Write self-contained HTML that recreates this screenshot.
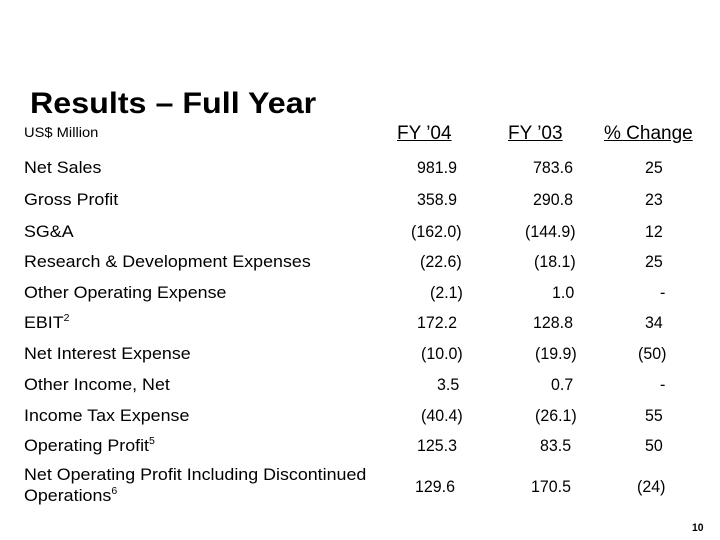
<!DOCTYPE html>
<html><head><meta charset="utf-8"><style>
body{margin:0;background:#fff}
#p{position:relative;width:720px;height:540px;overflow:hidden;font-family:"Liberation Sans",Arial,sans-serif;color:#000}
#p span{position:absolute;white-space:nowrap;line-height:1;font-size:17px;transform:scaleX(0.94);transform-origin:left center}
#p span.l{transform:scaleX(1.05)}
.t{font-weight:bold;font-size:30px!important;transform:scaleX(1.075)!important}
.h{font-size:19px!important;text-decoration:underline;transform:scaleX(1.0)!important}
sup{font-size:10px;vertical-align:7px}
</style></head><body><div id="p">
<span class="t" style="left:30px;top:89px">Results – Full Year</span>
<span class="l" style="left:24px;top:125px;font-size:14px">US$ Million</span>
<span class="h" style="left:397px;top:124px">FY ’04</span>
<span class="h" style="left:508px;top:124px">FY ’03</span>
<span class="h" style="left:604px;top:124px">% Change</span>

<span class="l" style="left:24px;top:159px">Net Sales</span>
<span class="l" style="left:24px;top:191px">Gross Profit</span>
<span class="l" style="left:24px;top:223px">SG&amp;A</span>
<span class="l" style="left:24px;top:253px">Research &amp; Development Expenses</span>
<span class="l" style="left:24px;top:284px">Other Operating Expense</span>
<span class="l" style="left:24px;top:314px">EBIT<sup>2</sup></span>
<span class="l" style="left:24px;top:345px">Net Interest Expense</span>
<span class="l" style="left:24px;top:376px">Other Income, Net</span>
<span class="l" style="left:24px;top:407px">Income Tax Expense</span>
<span class="l" style="left:24px;top:437px">Operating Profit<sup>5</sup></span>
<span class="l" style="left:24px;top:466px">Net Operating Profit Including Discontinued</span>
<span class="l" style="left:24px;top:487px">Operations<sup>6</sup></span>

<span style="left:417px;top:159px">981.9</span><span style="left:533px;top:159px">783.6</span><span style="left:645px;top:159px">25</span>
<span style="left:417px;top:191px">358.9</span><span style="left:533px;top:191px">290.8</span><span style="left:645px;top:191px">23</span>
<span style="left:411px;top:223px">(162.0)</span><span style="left:525px;top:223px">(144.9)</span><span style="left:645px;top:223px">12</span>
<span style="left:420px;top:253px">(22.6)</span><span style="left:534px;top:253px">(18.1)</span><span style="left:645px;top:253px">25</span>
<span style="left:430px;top:284px">(2.1)</span><span style="left:552px;top:284px">1.0</span><span style="left:660px;top:284px">-</span>
<span style="left:417px;top:314px">172.2</span><span style="left:533px;top:314px">128.8</span><span style="left:645px;top:314px">34</span>
<span style="left:421px;top:345px">(10.0)</span><span style="left:535px;top:345px">(19.9)</span><span style="left:638px;top:345px">(50)</span>
<span style="left:437px;top:376px">3.5</span><span style="left:551px;top:376px">0.7</span><span style="left:660px;top:376px">-</span>
<span style="left:421px;top:407px">(40.4)</span><span style="left:535px;top:407px">(26.1)</span><span style="left:645px;top:407px">55</span>
<span style="left:417px;top:437px">125.3</span><span style="left:540px;top:437px">83.5</span><span style="left:645px;top:437px">50</span>
<span style="left:415px;top:478px">129.6</span><span style="left:531px;top:478px">170.5</span><span style="left:637px;top:478px">(24)</span>

<span style="left:692px;top:523px;font-size:11px;font-weight:bold">10</span>
</div></body></html>
